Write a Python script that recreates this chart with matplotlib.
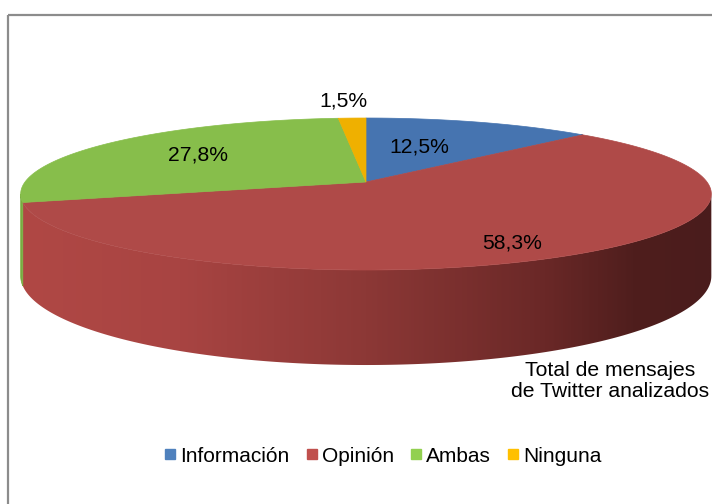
#!/usr/bin/env python3
# -*- coding: utf-8 -*-
"""
3D-looking pie chart of the analysed Twitter messages, drawn with plain
matplotlib patches (perspective ellipse + shaded side wall).
"""

import numpy as np
from matplotlib import pyplot as plt
from matplotlib.patches import Polygon, Rectangle
from matplotlib.lines import Line2D
from matplotlib.colors import LinearSegmentedColormap

plt.rcParams['font.family'] = ['Liberation Sans', 'DejaVu Sans']

""" data """
categories = ['Información', 'Opinión', 'Ambas', 'Ninguna']
shares = [12.5, 58.3, 27.8, 1.5]
labels = ['12,5%', '58,3%', '27,8%', '1,5%']
caption = 'Total de mensajes\nde Twitter analizados'

# colours of the top faces, the side wall and the legend keys
top_colors = ['#4674B0', '#AF4A48', '#87BE4B', '#EFB000']
side_colors = ['#3B6296', '#A84442', '#78AC40', '#D09A00']
legend_colors = ['#4F81BD', '#C0504D', '#92D050', '#FFC000']

# geometry of the projected disc (pixel units, y grows downwards)
cx, cy = 366, 182      # projected centre of the pie
A, B = 341, 74.1       # horizontal / vertical scale
k = 0.158              # perspective strength
T = 80                 # thickness of the disc


def proj(theta, depth=0.0):
    """ theta in degrees, clockwise from the far (top) side """
    t = np.radians(theta)
    u, v = np.sin(t), -np.cos(t)
    w = 1 - k * v
    return cx + A * u / w, cy + B * v / w + depth / w


fig = plt.figure(figsize=(7.12, 5.04), dpi=100)
ax = fig.add_axes([0, 0, 1, 1])
ax.set_xlim(0, 712)
ax.set_ylim(504, 0)
ax.axis('off')

# wedge limits
bounds = np.concatenate([[0], np.cumsum(shares) / np.sum(shares) * 360])
th_right = np.degrees(np.arccos(-k))
th_left = 360 - th_right

# side wall gradient for the large wedge
wall_cmap = LinearSegmentedColormap.from_list('wall', [
    (0.00, '#B04845'), (0.23, '#A84442'), (0.50, '#8C3836'),
    (0.76, '#6A2827'), (0.89, '#4F1E1D'), (1.00, '#4A1C1C')])
grad = np.linspace(0, 1, 400)[None, :]

""" side wall """
for i in range(len(shares)):
    a0, a1 = max(bounds[i], th_right), min(bounds[i + 1], th_left)
    if a1 <= a0:
        continue
    th = np.linspace(a0, a1, 200)
    xt, yt = proj(th)
    xb, yb = proj(th[::-1], T)
    pts = np.column_stack([np.r_[xt, xb], np.r_[yt, yb]])
    if i == 1:
        poly = Polygon(pts, closed=True, facecolor='none', edgecolor='none')
        ax.add_patch(poly)
        im = ax.imshow(grad, cmap=wall_cmap, aspect='auto',
                       extent=(proj(th_left)[0], proj(th_right)[0], 400, 150),
                       interpolation='bilinear')
        im.set_clip_path(poly)
    else:
        ax.add_patch(Polygon(pts, closed=True, facecolor=side_colors[i],
                             edgecolor=side_colors[i], lw=0.5))

""" top faces """
for i in range(len(shares)):
    th = np.linspace(bounds[i], bounds[i + 1], 200)
    xt, yt = proj(th)
    pts = np.column_stack([np.r_[cx, xt], np.r_[cy, yt]])
    ax.add_patch(Polygon(pts, closed=True, facecolor=top_colors[i],
                         edgecolor=top_colors[i], lw=0.5))

""" data labels """
label_pos = [(419, 147), (512, 243), (198, 155), (343, 101)]
for lab, (x, y) in zip(labels, label_pos):
    ax.text(x, y, lab, fontsize=15.2, ha='center', va='center', color='black')

ax.text(610, 381, caption, fontsize=15.2, ha='center', va='center',
        linespacing=1.15)

""" legend """
handles = [Line2D([], [], linestyle='', marker='s', markersize=7.5,
                  markerfacecolor=c, markeredgecolor=c) for c in legend_colors]
ax.legend(handles, categories, loc='center', ncol=4, frameon=False,
          bbox_to_anchor=(383 / 712, 1 - 456 / 504), fontsize=15,
          handlelength=0.55, handletextpad=0.2, columnspacing=0.8,
          borderpad=0)

# chart frame (extends past the right and bottom edges)
ax.add_patch(Rectangle((8, 15), 720, 520, facecolor='none',
                       edgecolor='#8C8C8C', lw=1.6, clip_on=False))

fig.savefig('out.png', dpi=100)
